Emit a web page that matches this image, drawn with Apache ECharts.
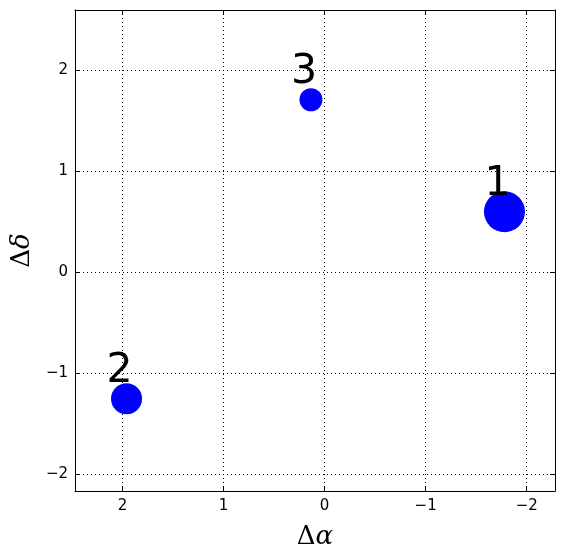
<!DOCTYPE html>
<html>
<head>
<meta charset="utf-8">
<script src="https://cdn.jsdelivr.net/npm/echarts@6/dist/echarts.min.js"></script>
<style>html,body{margin:0;padding:0;background:#fff}#c{width:565px;height:558px}</style>
</head>
<body>
<div id="c"></div>
<script>
// Data
var labels = ['1', '2', '3'];
var dAlpha = [-1.78, 1.96, 0.135];
var dDelta = [0.60, -1.255, 1.71];
var markerSize = [41, 31, 23];
var xRange = [-2.28, 2.47];
var yRange = [-2.17, 2.6];

var points = labels.map(function (l, i) { return [dAlpha[i], dDelta[i], markerSize[i], l]; });

function fmt(v) { return String(v).replace('-', '\u2212'); }

var chart = echarts.init(document.getElementById('c'), null, { renderer: 'canvas' });
var font = 'DejaVu Sans';
var baseAxis = {
  type: 'value',
  splitNumber: 5,
  minInterval: 1,
  maxInterval: 1,
  axisLine: { show: true, onZero: false, lineStyle: { color: '#000', width: 1 } },
  axisTick: { show: true, inside: true, length: 5, lineStyle: { color: '#000', width: 1 } },
  axisLabel: { show: true, color: '#000', fontFamily: font, fontSize: 15, formatter: fmt, showMinLabel: false, showMaxLabel: false },
  splitLine: { show: true, lineStyle: { color: '#000', width: 1, type: [1, 3] } }
};
function ax(extra) { return Object.assign({}, JSON.parse(JSON.stringify(baseAxis)), { axisLabel: Object.assign({}, baseAxis.axisLabel) }, extra); }

chart.setOption({
  animation: false,
  backgroundColor: '#fff',
  grid: { left: 75, top: 10, right: 10, bottom: 67 },
  xAxis: [
    ax({ min: xRange[0], max: xRange[1], inverse: true, position: 'bottom',
      axisLabel: Object.assign({}, baseAxis.axisLabel, { margin: 8 }),
      name: '{a|\u0394}{b|\u03b1}', nameLocation: 'middle', nameGap: 33,
      nameTextStyle: { rich: {
        a: { fontFamily: 'DejaVu Serif', fontSize: 26, color: '#000' },
        b: { fontFamily: 'DejaVu Serif', fontStyle: 'italic', fontSize: 26, color: '#000' } } } }),
    ax({ min: xRange[0], max: xRange[1], inverse: true, position: 'top', splitLine: { show: false },
      axisLabel: { show: false } })
  ],
  yAxis: [
    ax({ min: yRange[0], max: yRange[1], position: 'left',
      axisLabel: Object.assign({}, baseAxis.axisLabel, { margin: 7 }),
      name: '{a|\u0394}{b|\u03b4}', nameLocation: 'middle', nameGap: 40, nameRotate: 90,
      nameTextStyle: { rich: {
        a: { fontFamily: 'DejaVu Serif', fontSize: 26, color: '#000' },
        b: { fontFamily: 'DejaVu Serif', fontStyle: 'italic', fontSize: 26, color: '#000' } } } }),
    ax({ min: yRange[0], max: yRange[1], position: 'right', splitLine: { show: false },
      axisLabel: { show: false } })
  ],
  series: [{
    type: 'scatter',
    data: points,
    symbol: 'circle',
    symbolSize: function (v) { return v[2]; },
    itemStyle: { color: '#0000ff', opacity: 1 },
    label: {
      show: true,
      position: 'inside',
      offset: [-7, -27],
      formatter: function (p) { return p.data[3]; },
      fontFamily: font,
      fontSize: 41,
      color: '#000'
    },
    emphasis: { disabled: true },
    z: 5
  }]
});
</script>
</body>
</html>
